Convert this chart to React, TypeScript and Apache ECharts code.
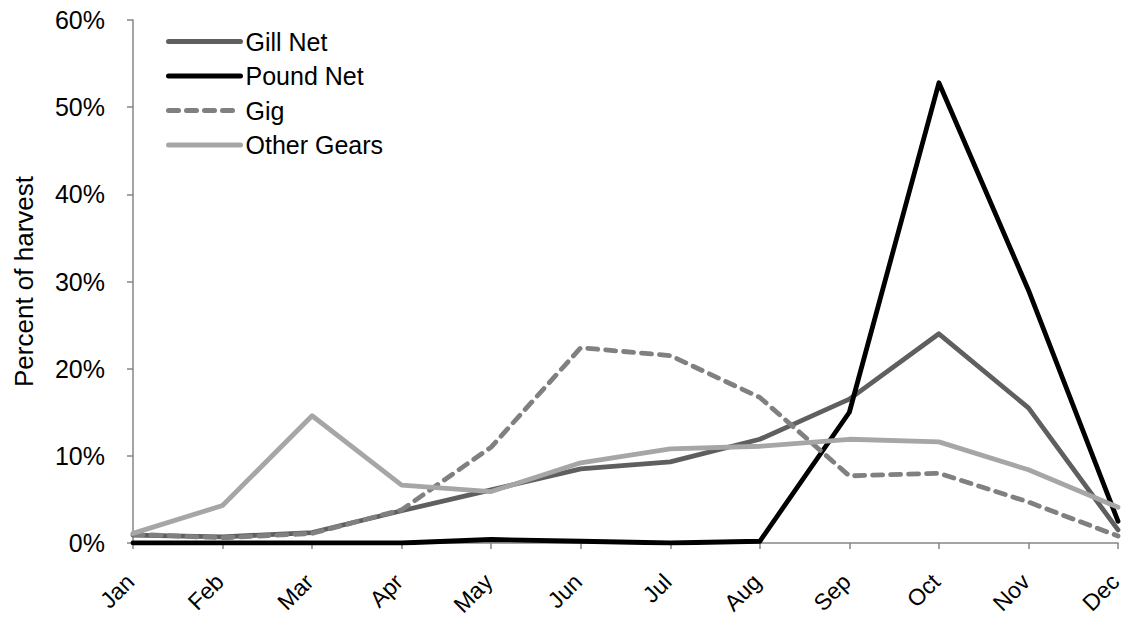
import React, { useEffect, useRef } from "react";
import * as echarts from "echarts";

const months = ["Jan", "Feb", "Mar", "Apr", "May", "Jun", "Jul", "Aug", "Sep", "Oct", "Nov", "Dec"];
const gillNet = [0.9, 0.7, 1.2, 3.7, 6.1, 8.5, 9.3, 11.9, 16.5, 24.0, 15.5, 1.5];
const poundNet = [0, 0, 0, 0, 0.4, 0.2, 0, 0.2, 15.0, 52.8, 29.0, 2.5];
const gig = [1.0, 0.6, 1.1, 3.8, 11.0, 22.4, 21.5, 16.7, 7.7, 8.0, 4.7, 0.8];
const otherGears = [1.1, 4.3, 14.6, 6.65, 5.9, 9.2, 10.8, 11.1, 11.9, 11.6, 8.4, 4.1];
const yTicks = [0, 10, 20, 30, 40, 50, 60];

const font = "'Liberation Sans', Arial, sans-serif";

export default function App() {
  const ref = useRef<HTMLDivElement>(null);
  useEffect(() => {
    if (!ref.current) return;
    const chart = echarts.init(ref.current, null, { renderer: "svg" });
    const mk = (name: string, data: number[], color: string, type: any = "solid") => ({
      name,
      type: "line",
      data,
      symbol: "none",
      smooth: false,
      lineStyle: { color, width: 4.8, type, cap: "round", join: "round" },
      itemStyle: { color },
    });
    chart.setOption({
      animation: false,
      backgroundColor: "#ffffff",
      textStyle: { fontFamily: font },
      grid: { left: 133, right: 8, top: 20, bottom: 76, outerBoundsMode: "none", containLabel: false },
      legend: {
        orient: "vertical",
        left: 161,
        top: 24,
        itemWidth: 72,
        itemHeight: 14,
        itemGap: 9.5,
        itemStyle: { opacity: 0 },
        lineStyle: { width: 5 },
        textStyle: { fontSize: 25, color: "#000", fontFamily: font },
        data: ["Gill Net", "Pound Net", "Gig", "Other Gears"],
      },
      xAxis: {
        type: "category",
        data: months,
        boundaryGap: false,
        axisLine: { lineStyle: { color: "#868686", width: 1.5 } },
        axisTick: { show: true, length: 6, lineStyle: { color: "#868686", width: 1.5 }, alignWithLabel: true },
        axisLabel: {
          rotate: 45,
          fontSize: 23,
          color: "#000",
          fontFamily: font,
          margin: 32,
          interval: 0,
          verticalAlign: "middle",
          padding: [0, 4, 0, 0],
        },
      },
      yAxis: {
        type: "value",
        min: yTicks[0],
        max: yTicks[yTicks.length - 1],
        interval: 10,
        name: "Percent of harvest",
        nameLocation: "middle",
        nameGap: 96,
        nameRotate: 90,
        nameTextStyle: { fontSize: 26, color: "#000", fontFamily: font },
        splitLine: { show: false },
        axisLine: { show: true, lineStyle: { color: "#868686", width: 1.5 } },
        axisTick: { show: true, length: 6, lineStyle: { color: "#868686", width: 1.5 } },
        axisLabel: { formatter: "{value}%", fontSize: 25, color: "#000", fontFamily: font, margin: 28 },
      },
      series: [
        mk("Gill Net", gillNet, "#5f5f5f"),
        mk("Pound Net", poundNet, "#000000"),
        mk("Gig", gig, "#808080", [10, 8]),
        mk("Other Gears", otherGears, "#a6a6a6"),
      ],
    });
    return () => chart.dispose();
  }, []);
  return (
    <div
      ref={ref}
      style={{ position: "fixed", left: 0, top: 0, width: 1126, height: 619 }}
    />
  );
}
